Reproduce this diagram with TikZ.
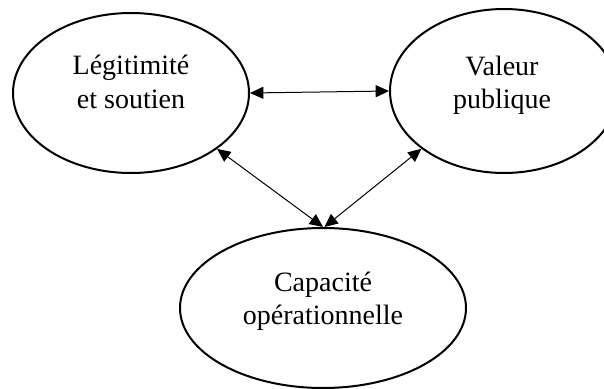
\documentclass[tikz,border=0pt]{standalone}
\usepackage{fontspec}
\setmainfont{Liberation Serif}
\usetikzlibrary{shapes.geometric,arrows.meta}
\begin{document}
\begin{tikzpicture}[x=0.75pt,y=-0.75pt,
  oval/.style={draw,ellipse,line width=1.5pt,inner sep=0pt},
  lbl/.style={align=center,font=\fontsize{21}{25}\selectfont,inner sep=0pt},
  link/.style={line width=0.75pt,{Triangle[length=10pt,width=9pt]}-{Triangle[length=10pt,width=9pt]}}]
\useasboundingbox (0,0) rectangle (604,389);
\clip (0,0) rectangle (604,389);
\node[oval,minimum width=177pt,minimum height=120pt] (L) at (131,93) {};
\node[oval,minimum width=171pt,minimum height=123pt] (R) at (504,91) {};
\node[oval,minimum width=214.5pt,minimum height=120pt] (B) at (323,308) {};
\node[lbl] (Lt) at (131,82) {Légitimité\\et soutien};
\node[lbl] (Rt) at (502,85) {Valeur\\publique};
\node[lbl] (Bt) at (323,301) {Capacité\\opérationnelle};
\draw[link] (L.east) -- (R.west);
\draw[link] (L.-33.5) -- (B.90.5);
\draw[link] (R.215.7) -- (B.89.3);
\end{tikzpicture}
\end{document}
